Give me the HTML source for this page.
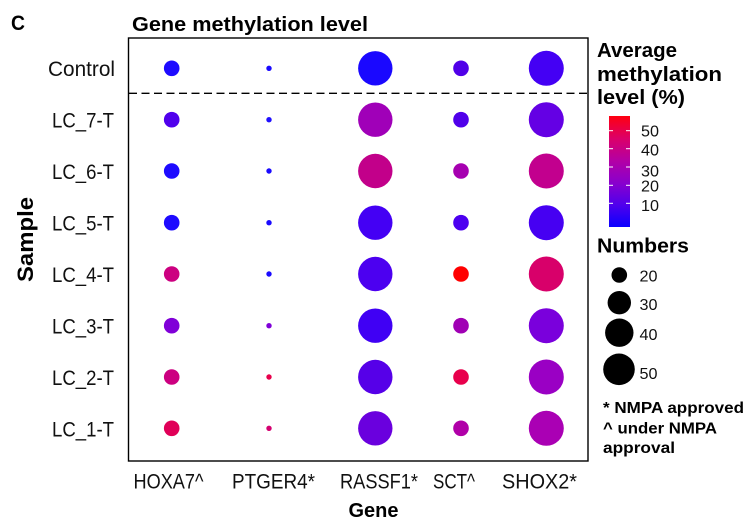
<!DOCTYPE html>
<html><head><meta charset="utf-8"><style>
html,body{margin:0;padding:0;background:#fff;}
svg{display:block;}
text{font-family:"Liberation Sans",sans-serif;fill:#111;}
.b{font-weight:bold;fill:#000;}
</style></head><body>
<svg width="756" height="529" viewBox="0 0 756 529" xmlns="http://www.w3.org/2000/svg">
<defs>
<linearGradient id="cb" x1="0" y1="1" x2="0" y2="0">
<stop offset="0" stop-color="#0a00ff"/>
<stop offset="0.2" stop-color="#5000ec"/>
<stop offset="0.4" stop-color="#8a00cc"/>
<stop offset="0.6" stop-color="#b400a4"/>
<stop offset="0.8" stop-color="#dc0068"/>
<stop offset="1" stop-color="#ff0010"/>
</linearGradient>
</defs>
<text x="11" y="30" class="b" font-size="21" textLength="14" lengthAdjust="spacingAndGlyphs">C</text>
<text x="132" y="31" class="b" font-size="20" textLength="236" lengthAdjust="spacingAndGlyphs">Gene methylation level</text>

<!-- panel -->
<rect x="128.5" y="38" width="459.5" height="423" fill="none" stroke="#000" stroke-width="1.4"/>
<line x1="129" y1="93.3" x2="588" y2="93.3" stroke="#000" stroke-width="1.4" stroke-dasharray="8,4.5"/>

<!-- y labels -->
<g font-size="21">
<text x="48" y="76" textLength="67" lengthAdjust="spacingAndGlyphs">Control</text>
<text x="52" y="127.5" textLength="62" lengthAdjust="spacingAndGlyphs">LC_7-T</text>
<text x="52" y="179" textLength="62" lengthAdjust="spacingAndGlyphs">LC_6-T</text>
<text x="52" y="230.5" textLength="62" lengthAdjust="spacingAndGlyphs">LC_5-T</text>
<text x="52" y="282" textLength="62" lengthAdjust="spacingAndGlyphs">LC_4-T</text>
<text x="52" y="333.5" textLength="62" lengthAdjust="spacingAndGlyphs">LC_3-T</text>
<text x="52" y="385" textLength="62" lengthAdjust="spacingAndGlyphs">LC_2-T</text>
<text x="52" y="436.5" textLength="62" lengthAdjust="spacingAndGlyphs">LC_1-T</text>
</g>
<text transform="translate(33,282) rotate(-90)" class="b" font-size="22" textLength="85" lengthAdjust="spacingAndGlyphs">Sample</text>

<!-- x labels -->
<g font-size="21">
<text x="133.5" y="488.5" textLength="70" lengthAdjust="spacingAndGlyphs">HOXA7^</text>
<text x="232" y="488.5" textLength="83" lengthAdjust="spacingAndGlyphs">PTGER4*</text>
<text x="340" y="488.5" textLength="78" lengthAdjust="spacingAndGlyphs">RASSF1*</text>
<text x="433" y="488.5" textLength="42" lengthAdjust="spacingAndGlyphs">SCT^</text>
<text x="502" y="488.5" textLength="75" lengthAdjust="spacingAndGlyphs">SHOX2*</text>
</g>
<text x="348.5" y="517" class="b" font-size="20" textLength="50" lengthAdjust="spacingAndGlyphs">Gene</text>

<!-- points -->
<g>
<!-- Control -->
<circle cx="171.7" cy="68.3" r="7.8" fill="#1e0bff"/>
<circle cx="269" cy="68.3" r="2.7" fill="#1a0aff"/>
<circle cx="375.3" cy="68.3" r="17.2" fill="#1a08ff"/>
<circle cx="461" cy="68.3" r="7.8" fill="#5000e8"/>
<circle cx="546.3" cy="68.3" r="17.5" fill="#4400f4"/>
<!-- LC_7 -->
<circle cx="171.7" cy="119.7" r="7.8" fill="#5000ec"/>
<circle cx="269" cy="119.7" r="2.7" fill="#2010ff"/>
<circle cx="375.3" cy="119.7" r="17.2" fill="#a000b8"/>
<circle cx="461" cy="119.7" r="7.8" fill="#5000ea"/>
<circle cx="546.3" cy="119.7" r="17.5" fill="#6400e4"/>
<!-- LC_6 -->
<circle cx="171.7" cy="171" r="7.8" fill="#1e0bff"/>
<circle cx="269" cy="171" r="2.7" fill="#1a0aff"/>
<circle cx="375.3" cy="171" r="17.2" fill="#c2008a"/>
<circle cx="461" cy="171" r="7.8" fill="#a600b0"/>
<circle cx="546.3" cy="171" r="17.5" fill="#c2008e"/>
<!-- LC_5 -->
<circle cx="171.7" cy="222.7" r="7.8" fill="#1e0bff"/>
<circle cx="269" cy="222.7" r="2.7" fill="#1a0aff"/>
<circle cx="375.3" cy="222.7" r="17.2" fill="#4400f4"/>
<circle cx="461" cy="222.7" r="7.8" fill="#4c00f0"/>
<circle cx="546.3" cy="222.7" r="17.5" fill="#4600f2"/>
<!-- LC_4 -->
<circle cx="171.7" cy="274" r="7.8" fill="#cc0080"/>
<circle cx="269" cy="274" r="2.7" fill="#1a0aff"/>
<circle cx="375.3" cy="274" r="17.2" fill="#4c00f0"/>
<circle cx="461" cy="274" r="7.8" fill="#ff0000"/>
<circle cx="546.3" cy="274" r="17.5" fill="#d8006a"/>
<!-- LC_3 -->
<circle cx="171.7" cy="325.7" r="7.8" fill="#8000d8"/>
<circle cx="269" cy="325.7" r="2.7" fill="#8000d8"/>
<circle cx="375.3" cy="325.7" r="17.2" fill="#4000f4"/>
<circle cx="461" cy="325.7" r="7.8" fill="#a000b4"/>
<circle cx="546.3" cy="325.7" r="17.5" fill="#7a00dc"/>
<!-- LC_2 -->
<circle cx="171.7" cy="377" r="7.8" fill="#cc0080"/>
<circle cx="269" cy="377" r="2.7" fill="#e8004c"/>
<circle cx="375.3" cy="377" r="17.2" fill="#5600e8"/>
<circle cx="461" cy="377" r="7.8" fill="#e8004c"/>
<circle cx="546.3" cy="377" r="17.5" fill="#9a00c4"/>
<!-- LC_1 -->
<circle cx="171.7" cy="428.3" r="7.8" fill="#e00058"/>
<circle cx="269" cy="428.3" r="2.7" fill="#d40070"/>
<circle cx="375.3" cy="428.3" r="17.2" fill="#6a00de"/>
<circle cx="461" cy="428.3" r="7.8" fill="#b000a8"/>
<circle cx="546.3" cy="428.3" r="17.5" fill="#aa00b4"/>
</g>

<!-- legend colour -->
<g class="b" font-size="20">
<text x="597" y="57" class="b" textLength="80" lengthAdjust="spacingAndGlyphs">Average</text>
<text x="597" y="81" class="b" textLength="125" lengthAdjust="spacingAndGlyphs">methylation</text>
<text x="597" y="104" class="b" textLength="88" lengthAdjust="spacingAndGlyphs">level (%)</text>
</g>
<rect x="609" y="116" width="21" height="111" fill="url(#cb)"/>
<g stroke="#fff" stroke-width="1">
<line x1="609" y1="130.7" x2="613" y2="130.7"/><line x1="626" y1="130.7" x2="630" y2="130.7"/>
<line x1="609" y1="148.7" x2="613" y2="148.7"/><line x1="626" y1="148.7" x2="630" y2="148.7"/>
<line x1="609" y1="167" x2="613" y2="167"/><line x1="626" y1="167" x2="630" y2="167"/>
<line x1="609" y1="185.3" x2="613" y2="185.3"/><line x1="626" y1="185.3" x2="630" y2="185.3"/>
<line x1="609" y1="203.3" x2="613" y2="203.3"/><line x1="626" y1="203.3" x2="630" y2="203.3"/>
</g>
<g font-size="16">
<text x="641" y="136.7" textLength="18" lengthAdjust="spacingAndGlyphs">50</text>
<text x="641" y="155.7" textLength="18" lengthAdjust="spacingAndGlyphs">40</text>
<text x="641" y="176.7" textLength="18" lengthAdjust="spacingAndGlyphs">30</text>
<text x="641" y="191.7" textLength="18" lengthAdjust="spacingAndGlyphs">20</text>
<text x="641" y="211" textLength="18" lengthAdjust="spacingAndGlyphs">10</text>
</g>

<!-- legend size -->
<text x="597" y="252.7" class="b" font-size="20" textLength="92" lengthAdjust="spacingAndGlyphs">Numbers</text>
<circle cx="619.3" cy="275" r="7.8" fill="#000"/>
<circle cx="619.3" cy="302.7" r="11.7" fill="#000"/>
<circle cx="619.3" cy="332.7" r="14.2" fill="#000"/>
<circle cx="619" cy="369.3" r="15.8" fill="#000"/>
<g font-size="16">
<text x="639.5" y="281.7" textLength="18" lengthAdjust="spacingAndGlyphs">20</text>
<text x="639.5" y="310" textLength="18" lengthAdjust="spacingAndGlyphs">30</text>
<text x="639.5" y="340" textLength="18" lengthAdjust="spacingAndGlyphs">40</text>
<text x="639.5" y="379" textLength="18" lengthAdjust="spacingAndGlyphs">50</text>
</g>

<g font-size="16">
<text x="603" y="413" class="b" textLength="141" lengthAdjust="spacingAndGlyphs">* NMPA approved</text>
<text x="603" y="433.5" class="b" textLength="114" lengthAdjust="spacingAndGlyphs">^ under NMPA</text>
<text x="603" y="453" class="b" textLength="72" lengthAdjust="spacingAndGlyphs">approval</text>
</g>
</svg>
</body></html>
